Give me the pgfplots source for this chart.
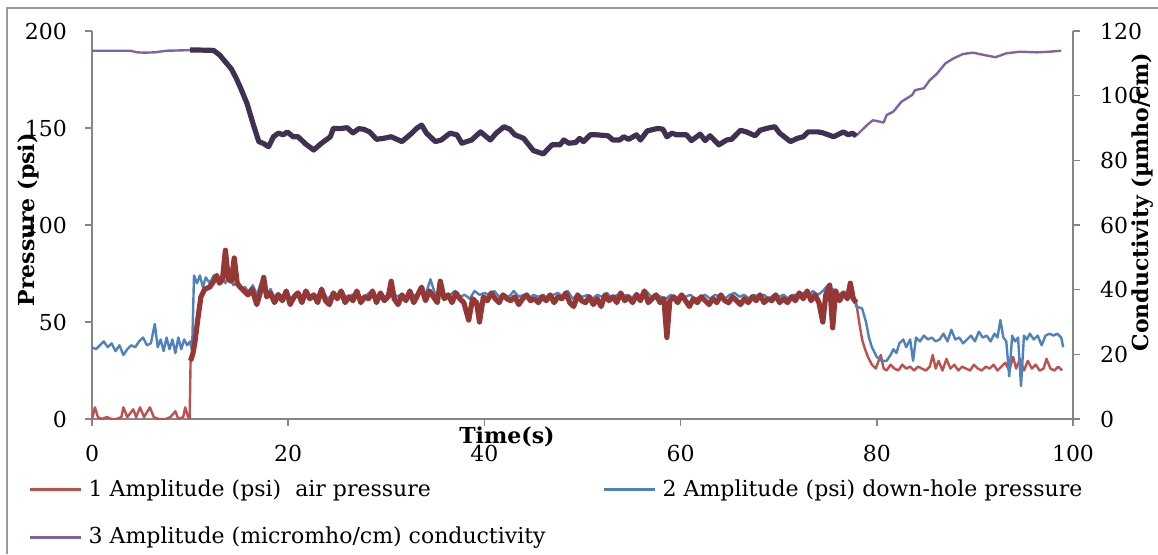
\documentclass[border=0pt]{standalone}
\usepackage{pgfplots}
\pgfplotsset{compat=1.18}
\usepackage{pgfplotstable}
\usepackage{fontspec}
\setmainfont{DejaVu Serif}
\definecolor{cRed}{HTML}{C0504D}
\definecolor{cDarkRed}{HTML}{953735}
\definecolor{cBlue}{HTML}{4F81BD}
\definecolor{cPurple}{HTML}{8064A2}
\definecolor{cDarkPurple}{HTML}{3F3151}
\definecolor{axGray}{HTML}{868686}
\definecolor{frGray}{HTML}{9A9A9A}

\pgfplotstableread{
t p
0 0
0.3 6
0.6 1
1.0 0
1.5 1
2 0
2.5 0
3.0 1
3.2 6
3.6 1
4.2 5
4.5 1
4.9 6
5.3 1
5.9 6
6.3 1
6.8 0
7.5 0
8.0 1
8.5 4
8.8 0
9.3 1
9.5 6
9.8 1
9.95 0
10.05 30
10.3 34
10.5 40
10.8 52
11.1 63
11.5 67
12.0 68
12.4 71
12.7 74
13.0 70
13.3 72
13.6 87
13.9 72
14.2 71
14.5 83
14.8 70
15.1 68
15.5 66
15.9 64
16.3 67
16.8 59
17.2 66
17.5 73
17.8 63
18.2 65
18.6 60
19.0 64
19.4 61
19.8 66
20.2 59
20.6 63
21.0 65
21.4 60
21.8 66
22.2 62
22.6 64
23.0 60
23.4 67
23.8 61
24.2 59
24.6 65
25.0 62
25.4 66
25.8 60
26.2 63
26.6 61
27.0 66
27.4 60
27.8 63
28.2 62
28.6 66
29.0 60
29.4 65
29.8 61
30.2 63
30.5 71
30.8 62
31.2 59
31.6 64
32.0 61
32.4 66
32.8 60
33.2 64
33.6 68
34.0 61
34.4 66
34.8 63
35.2 60
35.5 71
35.9 62
36.3 64
36.7 60
37.1 65
37.5 62
37.9 60
38.4 51
38.8 62
39.2 60
39.5 50
39.9 63
40.3 61
40.7 65
41.1 62
41.5 60
41.9 64
42.3 62
42.7 61
43.1 63
43.5 59
43.9 62
44.3 64
44.7 61
45.1 62
45.5 60
45.9 63
46.3 61
46.7 64
47.1 60
47.5 63
47.9 62
48.3 65
48.7 60
49.1 58
49.5 64
49.9 61
50.3 60
50.7 63
51.1 59
51.5 62
51.9 58
52.3 64
52.7 61
53.1 63
53.5 60
53.9 65
54.3 61
54.7 63
55.1 60
55.5 64
55.9 61
56.3 66
56.7 60
57.1 62
57.5 64
57.9 60
58.3 62
58.6 42
58.9 61
59.3 63
59.7 60
60.1 64
60.5 61
60.9 58
61.3 62
61.7 60
62.1 63
62.5 61
62.9 59
63.3 62
63.7 60
64.1 64
64.5 61
64.9 60
65.3 63
65.7 61
66.1 59
66.5 62
66.9 60
67.3 63
67.7 61
68.1 64
68.5 60
68.9 62
69.3 61
69.7 64
70.1 60
70.5 62
70.9 60
71.3 63
71.7 61
72.1 65
72.5 62
72.9 66
73.3 61
73.7 64
74.1 60
74.5 50
74.8 64
75.2 69
75.5 47
75.8 66
76.2 61
76.6 65
77.0 62
77.3 70
77.6 62
77.9 60
78.2 50
78.5 41
78.8 36
79.1 32
79.5 28
79.9 26
80.4 33
80.7 26
81.0 25
81.4 28
81.8 26
82.2 25
82.6 28
83.0 26
83.4 27
83.8 25
84.2 27
84.6 26
85.0 25
85.4 27
85.7 33
86.0 26
86.3 30
86.7 25
87.1 31
87.5 26
87.9 28
88.3 25
88.7 27
89.1 26
89.5 25
89.9 28
90.3 26
90.7 25
91.1 27
91.5 26
91.9 28
92.3 25
92.7 27
93.1 29
93.5 25
93.9 32
94.2 26
94.6 31
95.0 25
95.4 30
95.8 26
96.2 28
96.6 25
97.0 26
97.3 31
97.7 26
98.1 25
98.5 27
98.9 25
}\airdata

\pgfplotstableread{
t p
0 37
0.4 36
0.8 38
1.2 40
1.6 37
2.0 39
2.4 35
2.8 38
3.2 33
3.6 36
4.0 38
4.4 37
4.8 40
5.2 42
5.6 38
6.0 39
6.4 49
6.7 37
7.0 41
7.3 35
7.6 42
7.9 36
8.2 41
8.5 34
8.8 42
9.1 36
9.4 41
9.7 38
10.0 40
10.2 35
10.4 74
10.7 70
11.0 74
11.3 68
11.6 73
12.0 70
12.4 74
12.8 71
13.2 73
13.6 70
14.0 74
14.4 69
14.8 70
15.2 67
15.6 68
16.0 65
16.4 69
16.8 64
17.2 70
17.5 71
17.8 64
18.2 67
18.5 63
19.0 65
19.5 62
20.0 64
20.5 61
21.0 65
21.5 63
22.0 64
22.5 62
23.0 64
23.5 66
24.0 62
24.5 64
25.0 63
25.5 66
26.0 62
26.5 64
27.0 65
27.5 62
28.0 64
28.5 66
29.0 62
29.5 64
30.0 63
30.5 70
31.0 63
31.5 64
32.0 62
32.5 65
33.0 63
33.5 66
34.0 64
34.5 72
35.0 64
35.5 65
36.0 63
36.5 64
37.0 66
37.5 63
38.0 64
38.5 62
39.0 66
39.5 64
40.0 65
40.5 64
41.0 66
41.5 63
42.0 64
42.5 63
43.0 66
43.5 63
44.0 64
44.5 62
45.0 64
45.5 63
46.0 64
46.5 62
47.0 64
47.5 65
48.0 63
48.5 66
49.0 62
49.5 64
50.0 63
50.5 64
51.0 62
51.5 64
52.0 63
52.5 65
53.0 62
53.5 64
54.0 63
54.5 64
55.0 62
55.5 65
56.0 63
56.5 66
57.0 63
57.5 64
58.0 63
58.5 62
59.0 64
59.5 62
60.0 64
60.5 63
61.0 64
61.5 62
62.0 63
62.5 64
63.0 62
63.5 64
64.0 63
64.5 62
65.0 64
65.5 65
66.0 63
66.5 64
67.0 62
67.5 64
68.0 63
68.5 64
69.0 62
69.5 64
70.0 63
70.5 64
71.0 62
71.5 64
72.0 64
72.5 65
73.0 63
73.5 66
74.0 64
74.5 66
75.0 69
75.5 67
76.0 64
76.5 65
77.0 63
77.5 67
77.9 58
78.5 57
78.9 50
79.2 42
79.5 37
80.0 32
80.5 30
81.0 30
81.4 33
81.7 36
82.0 34
82.3 39
82.7 41
83.0 37
83.4 41
83.7 30
84.0 42
84.4 40
84.8 43
85.2 41
85.6 42
86.0 40
86.4 41
86.8 44
87.2 40
87.6 46
88.0 41
88.4 42
88.8 39
89.2 41
89.6 43
90.0 40
90.4 45
90.8 42
91.2 43
91.6 40
92.0 44
92.3 42
92.6 51
92.9 42
93.2 40
93.5 22
93.8 43
94.1 40
94.4 42
94.7 17
95.0 43
95.3 41
95.6 44
96.0 41
96.4 43
96.8 38
97.2 43
97.6 44
98.0 43
98.4 44
98.8 42
99.0 37
}\holedata

\pgfplotstableread{
t c
0 113.9
2 113.9
3.9 113.9
4.6 113.4
5.4 113.3
6.4 113.4
7.6 113.9
9 114.0
10 114.1
11 114.1
12.4 114.0
13.0 112.6
13.7 110.1
14.2 108.3
14.7 105.4
15.2 102.0
15.8 97.6
16.4 91.5
17.0 85.8
17.5 85.2
18.0 84.2
18.5 87.3
19.0 88.4
19.5 87.9
19.9 88.8
20.5 87.3
21.0 87.3
21.8 85.0
22.6 83.2
23.4 85.3
24.3 87.3
24.6 89.9
25.3 89.8
26.0 90.1
26.6 88.5
27.2 89.8
27.7 89.6
28.3 88.8
29.0 86.5
29.7 86.8
30.5 87.3
31.6 85.8
32.6 88.4
33.1 89.9
33.6 90.9
34.1 88.4
35.0 85.8
35.6 86.3
36.5 88.4
37.2 87.9
37.7 85.3
38.7 86.3
39.6 88.8
40.6 86.3
41.2 88.4
42.0 90.4
42.6 89.6
43.1 87.9
44.0 86.8
45.0 83.0
46.0 82.0
46.9 84.8
47.7 84.8
48.1 86.3
48.6 85.3
49.3 85.5
49.7 86.8
50.1 85.8
50.8 87.9
51.4 87.9
52.6 87.6
53.1 86.3
53.8 86.3
54.2 87.3
54.7 86.5
55.5 87.9
55.9 86.3
56.6 89.1
57.7 89.9
58.2 89.6
58.6 87.3
59.1 88.4
59.6 87.9
60.6 87.9
61.1 86.1
62.0 88.1
62.5 86.1
63.0 87.6
63.9 84.8
64.7 86.3
65.2 86.5
66.1 89.3
66.7 88.8
67.6 87.6
68.1 89.3
68.8 89.9
69.6 90.4
70.1 88.4
71.2 85.8
71.9 86.8
72.5 87.3
73.0 88.8
74.0 88.8
74.5 88.5
75.6 87.3
76.6 88.8
77.1 87.9
77.5 88.4
77.9 87.6
79.0 90.9
79.6 92.4
80.7 91.7
81.0 94.0
81.7 95.1
82.5 98.1
83.6 100.2
83.9 101.7
84.8 102.3
85.4 104.8
86.1 106.7
87.0 110.0
87.8 111.5
88.8 112.9
89.8 113.3
90.9 112.6
92.1 111.9
93.2 113.1
94.6 113.6
96.3 113.4
97.6 113.6
98.8 113.9
}\conddata

\pgfplotsset{
  common/.style={
    at={(46pt,67.5pt)}, anchor=south west,
    width=490.5pt, height=194pt, scale only axis,
    xmin=0, xmax=100,
    axis line style={draw=axGray, line width=0.75pt},
    tick style={draw=axGray, line width=0.75pt},
    tick align=outside, major tick length=3.5pt,
    ticklabel style={font=\fontsize{11}{13}\selectfont},
    /pgf/number format/assume math mode=true,
    label style={font=\bfseries\fontsize{11}{13}\selectfont},
  }
}

\begin{document}
\begin{tikzpicture}
\useasboundingbox (0pt,0pt) rectangle (579pt,277pt);
\draw[frGray, line width=0.75pt] (3.5pt,0pt) -- (3.5pt,273pt) -- (579pt,273pt);
\begin{axis}[common,
  ymin=0, ymax=200,
  axis x line*=bottom, axis y line*=left,
  xtick={0,20,...,100}, ytick={0,50,...,200},
  xticklabel style={yshift=-6pt},
  yticklabel style={xshift=-5.5pt},
  xlabel={Time(s)},
  xlabel style={at={(axis description cs:0.423,-0.046)}, anchor=center},
  ylabel={Pressure (psi)},
  ylabel style={at={(axis description cs:-0.0652,0.513)}, anchor=center, rotate=0},
  legend columns=2,
  legend style={at={(axis description cs:-0.0645,-0.156)}, anchor=north west,
    draw=none, fill=none, inner sep=0pt, outer sep=0pt,
    row sep=14pt,
    nodes={inner sep=0pt, font=\fontsize{11}{13}\selectfont},
    /tikz/every odd column/.append style={column sep=3pt}},
  legend cell align=left,
  legend image code/.code={\draw[#1, line width=1.5pt] (0pt,0pt) -- (25.5pt,0pt);},
]
\addplot[cRed, line width=1.2pt, line join=round] table[x=t,y=p] {\airdata};
\addlegendentry{\makebox[257pt][l]{1 Amplitude (psi)\ \ air pressure}}
\addplot[cBlue, line width=1.2pt, line join=round] table[x=t,y=p] {\holedata};
\addlegendentry{\makebox[257pt][l]{2 Amplitude (psi) down-hole pressure}}
\addplot[cDarkRed, line width=2.6pt, line join=round, restrict x to domain=10:78, forget plot] table[x=t,y=p] {\airdata};
\addlegendimage{cPurple}
\addlegendentry{\makebox[257pt][l]{3 Amplitude (micromho/cm) conductivity}}
\end{axis}
\begin{axis}[common,
  ymin=0, ymax=120,
  axis y line*=right, axis x line=none,
  ytick={0,20,...,120},
  yticklabel style={xshift=6.5pt},
  ylabel={Conductivity (µmho/cm)},
  ylabel style={at={(axis description cs:1.0714,0.559)}, anchor=center, rotate=0},
]
\addplot[cPurple, line width=1.2pt, line join=round] table[x=t,y=c] {\conddata};
\addplot[cDarkPurple, line width=2.6pt, line join=round, restrict x to domain=10:78] table[x=t,y=c] {\conddata};
\end{axis}
\end{tikzpicture}
\end{document}
